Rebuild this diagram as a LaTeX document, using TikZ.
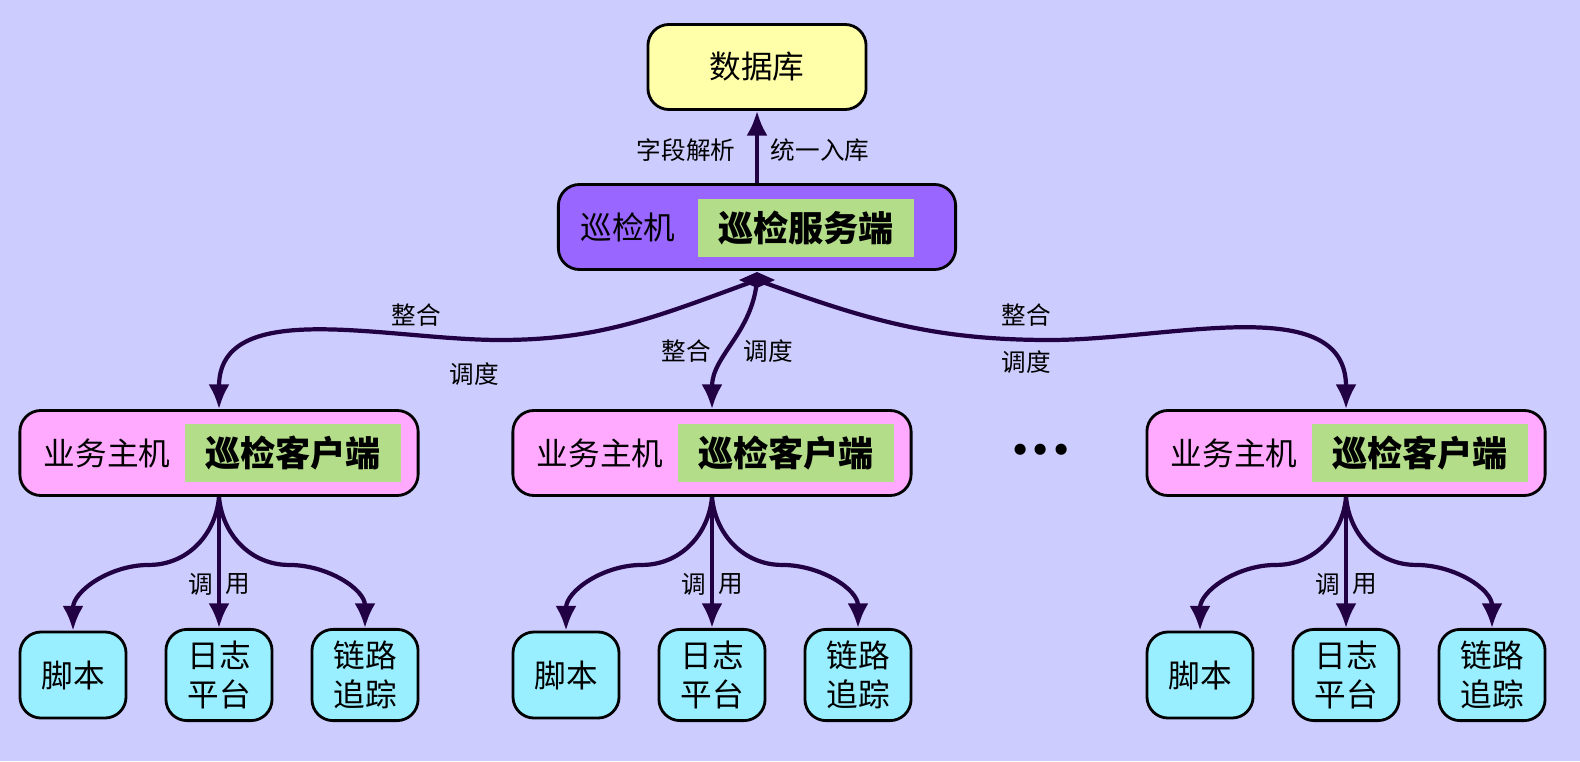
\documentclass[tikz,border=0pt]{standalone}
\usepackage{fontspec}
\setmainfont{Noto Sans CJK SC}
\newfontfamily\dvfont{DejaVu Sans}
\usetikzlibrary{arrows.meta}
\definecolor{bgc}{HTML}{CCCCFF}
\definecolor{dbc}{HTML}{FFFFAA}
\definecolor{srvc}{HTML}{9966FF}
\definecolor{clic}{HTML}{FFAAFF}
\definecolor{leafc}{HTML}{99EEFF}
\definecolor{tagc}{HTML}{B3DD88}
\definecolor{linec}{HTML}{220044}
\begin{document}
\begin{tikzpicture}[x=0.01cm,y=-0.01cm]

\tikzstyle{box} = [rectangle, rounded corners=6pt, draw=black, thick, text centered, font=\fontsize{9pt}{11pt}\selectfont]
\tikzstyle{tag} = [rectangle, fill=tagc, minimum width=2.16cm, minimum height=0.56cm, font=\bfseries\fontsize{10pt}{12pt}\selectfont]
\tikzstyle{leaf} = [box, fill=leafc, minimum width=1.06cm, minimum height=0.86cm, align=center]
\tikzstyle{lbl} = [font=\fontsize{7pt}{8pt}\selectfont]
\tikzstyle{arrow} = [line width=1.2pt, draw=linec, -{Latex[length=7pt,width=6pt]}]

\useasboundingbox (0,0) rectangle (1580,761);
\fill[bgc] (0,0) rectangle (1580,761);

% Nodes
\node (db) [box, fill=dbc, minimum width=2.18cm, minimum height=0.85cm] at (757,67) {数据库};
\node (srv) [box, fill=srvc, minimum width=3.97cm, minimum height=0.85cm] at (757,227) {};
\node (srvtag) [tag] at (806,228) {巡检服务端};
\node [box, draw=none] at (628,227) {巡检机};
\coordinate (hub) at (757,280);

\foreach \n/\x in {a/219, b/712, c/1346} {
  \node (cli\n) [box, fill=clic, minimum width=3.98cm, minimum height=0.85cm] at (\x,453) {};
  \node [tag] at (\x+74,453) {巡检客户端};
  \node [box, draw=none] at (\x-112,453) {业务主机};
  \node (js\n) [leaf] at (\x-146,675) {脚本};
  \node (rz\n) [leaf] at (\x,675) {日志\\平台};
  \node (ll\n) [leaf] at (\x+146,675) {链路\\追踪};
  \draw [arrow] (cli\n.south) to[out=-95, in=0] ++(-70,68) to[out=180, in=90] (js\n.north);
  \draw [arrow] (cli\n.south) -- (rz\n.north);
  \draw [arrow] (cli\n.south) to[out=-85, in=180] ++(70,68) to[out=0, in=90] (ll\n.north);
  \node [lbl] at (\x-18,584) {调};
  \node [lbl] at (\x+19,584) {用};
}
\node [font=\dvfont\bfseries\fontsize{9pt}{9pt}\selectfont, inner sep=0pt] at (1041,453) {•••};

% Arrows
\draw [arrow] (srv.north) -- (db.south);
\node [lbl] at (686,150) {字段解析};
\node [lbl] at (820,150) {统一入库};

\draw [arrow] (hub) to[out=-160, in=0] (500,340) to[out=180, in=90] (clia.north);
\draw [arrow] (hub) to[out=-95, in=90] (clib.north);
\draw [arrow] (hub) to[out=-20, in=180] (1050,340) to[out=0, in=90] (clic.north);
\fill[linec] (hub) ++(-18,0) -- ++(18,-8) -- ++(18,8) -- ++(-18,8) -- cycle;
\node [lbl] at (416,315) {整合};
\node [lbl] at (474,374) {调度};
\node [lbl] at (686,351) {整合};
\node [lbl] at (768,351) {调度};
\node [lbl] at (1026,315) {整合};
\node [lbl] at (1026,362) {调度};

\end{tikzpicture}
\end{document}
